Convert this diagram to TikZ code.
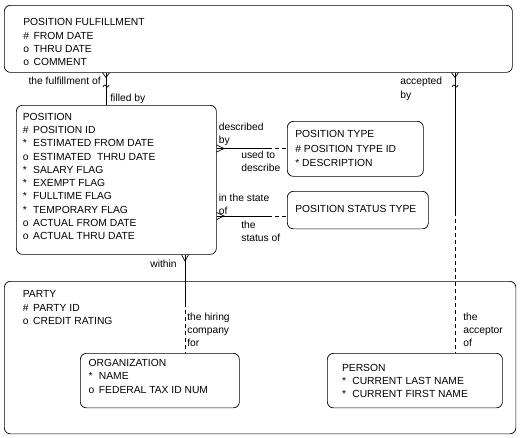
\documentclass[tikz,border=0pt]{standalone}
\usepackage{fontspec}
\setmainfont{Liberation Sans}
\usetikzlibrary{calc}
\newcommand{\erattr}[1]{\makebox[10.3pt][l]{#1}}
\begin{document}
\begin{tikzpicture}[x=1pt,y=-1pt,line width=0.7pt,
  ent/.style={draw,rounded corners=6pt,anchor=north west,inner sep=0pt},
  txt/.style={anchor=north west,inner sep=0pt,align=left,font=\fontsize{10.3}{13.3}\selectfont},
  rtxt/.style={txt,anchor=north east,align=right},
  opt/.style={dash pattern=on 4pt off 3pt}]
\useasboundingbox[fill=white] (0,0) rectangle (524,437);

% entity boxes
\node[ent,minimum width=508pt,minimum height=67pt] (pf) at (4,5) {};
\node[ent,minimum width=200pt,minimum height=149pt] (pos) at (16,105) {};
\node[ent,minimum width=136pt,minimum height=55pt] (pt) at (287,121) {};
\node[ent,minimum width=141pt,minimum height=37.5pt] (pst) at (287,191) {};
\node[ent,minimum width=511.5pt,minimum height=152.5pt] (party) at (4,281) {};
\node[ent,minimum width=159pt,minimum height=54.5pt] (org) at (80,353) {};
\node[ent,minimum width=175pt,minimum height=54.5pt] (person) at (327,353) {};

% entity texts
\node[txt] (pftxt) at (23,18.3) {POSITION FULFILLMENT\\\erattr{\#}FROM DATE\\\erattr{o}THRU DATE\\\erattr{o}COMMENT};
\node[txt] (postxt) at (22.5,112.6) {POSITION\\\erattr{\#}POSITION ID\\\erattr{*}ESTIMATED FROM DATE\\\erattr{o}ESTIMATED\hspace{3pt} THRU DATE\\\erattr{*}SALARY FLAG\\\erattr{*}EXEMPT FLAG\\\erattr{*}FULLTIME FLAG\\\erattr{*}TEMPORARY FLAG\\\erattr{o}ACTUAL FROM DATE\\\erattr{o}ACTUAL THRU DATE};
\node[txt] (pttxt) at (295,130) {POSITION TYPE\\[2pt]\# POSITION TYPE ID\\* DESCRIPTION};
\node[txt] (psttxt) at (295,204.6) {POSITION STATUS TYPE};
\node[txt] (partytxt) at (22.5,290.3) {PARTY\\\erattr{\#}PARTY ID\\\erattr{o}CREDIT RATING};
\node[txt] (orgtxt) at (88.3,359) {ORGANIZATION\\\erattr{*}NAME\\\erattr{o}FEDERAL TAX ID NUM};
\node[txt] (persontxt) at (341.7,363.6) {PERSON\\\erattr{*}CURRENT LAST NAME\\\erattr{*}CURRENT FIRST NAME};

% PF -- POSITION
\draw (pf.south -| 106,0) -- (pos.north -| 106,0);
\draw (pf.south -| 102.5,0) -- (106,77.5) -- (pf.south -| 109.5,0);
\draw (103,87) .. controls (104.3,84.3) and (105.2,84.5) .. (106,86) .. controls (106.8,87.5) and (107.7,87.7) .. (109,85);
\node[rtxt] (l1) at (101,77) {the fulfillment of};
\node[txt] (l2) at (110,93.6) {filled by};

% PF -- PERSON
\coordinate (m1) at (455,212);
\draw (pf.south -| 455,0) -- (m1);
\draw[opt] (m1) -- (person.north -| 455,0);
\draw (pf.south -| 451.5,0) -- (455,77.5) -- (pf.south -| 458.5,0);
\draw (452,87) .. controls (453.3,84.3) and (454.2,84.5) .. (455,86) .. controls (455.8,87.5) and (456.7,87.7) .. (458,85);
\node[txt] (l3) at (400,77) {accepted\\by};
\node[txt] (l4) at (463,312.3) {the\\acceptor\\of};

% POSITION -- POSITION TYPE
\coordinate (m2) at (268,148.5);
\draw (pos.east |- 0,148.5) -- (m2);
\draw[opt] (m2) -- (pt.west |- 0,148.5);
\draw (pos.east |- 0,145) -- (224,148.5) -- (pos.east |- 0,152);
\node[txt] (l5) at (218.5,122.3) {described\\by};
\node[txt] (l6) at (241,150.3) {used to\\describe};

% POSITION -- POSITION STATUS TYPE
\coordinate (m3) at (268,216);
\draw (pos.east |- 0,216) -- (m3);
\draw[opt] (m3) -- (pst.west |- 0,216);
\draw (pos.east |- 0,212.5) -- (224,216) -- (pos.east |- 0,219.5);
\node[txt] (l7) at (218.5,193.6) {in the state\\of};
\node[txt] (l8) at (241,220.3) {the\\status of};

% POSITION -- ORGANIZATION
\coordinate (m4) at (185,303);
\draw (pos.south -| 185,0) -- (m4);
\draw[opt] (m4) -- (org.north -| 185,0);
\draw (pos.south -| 181.5,0) -- (185,261) -- (pos.south -| 188.5,0);
\node[rtxt] (l9) at (177,259.6) {within};
\node[txt] (l10) at (187,312.3) {the hiring\\company\\for};
\end{tikzpicture}
\end{document}
